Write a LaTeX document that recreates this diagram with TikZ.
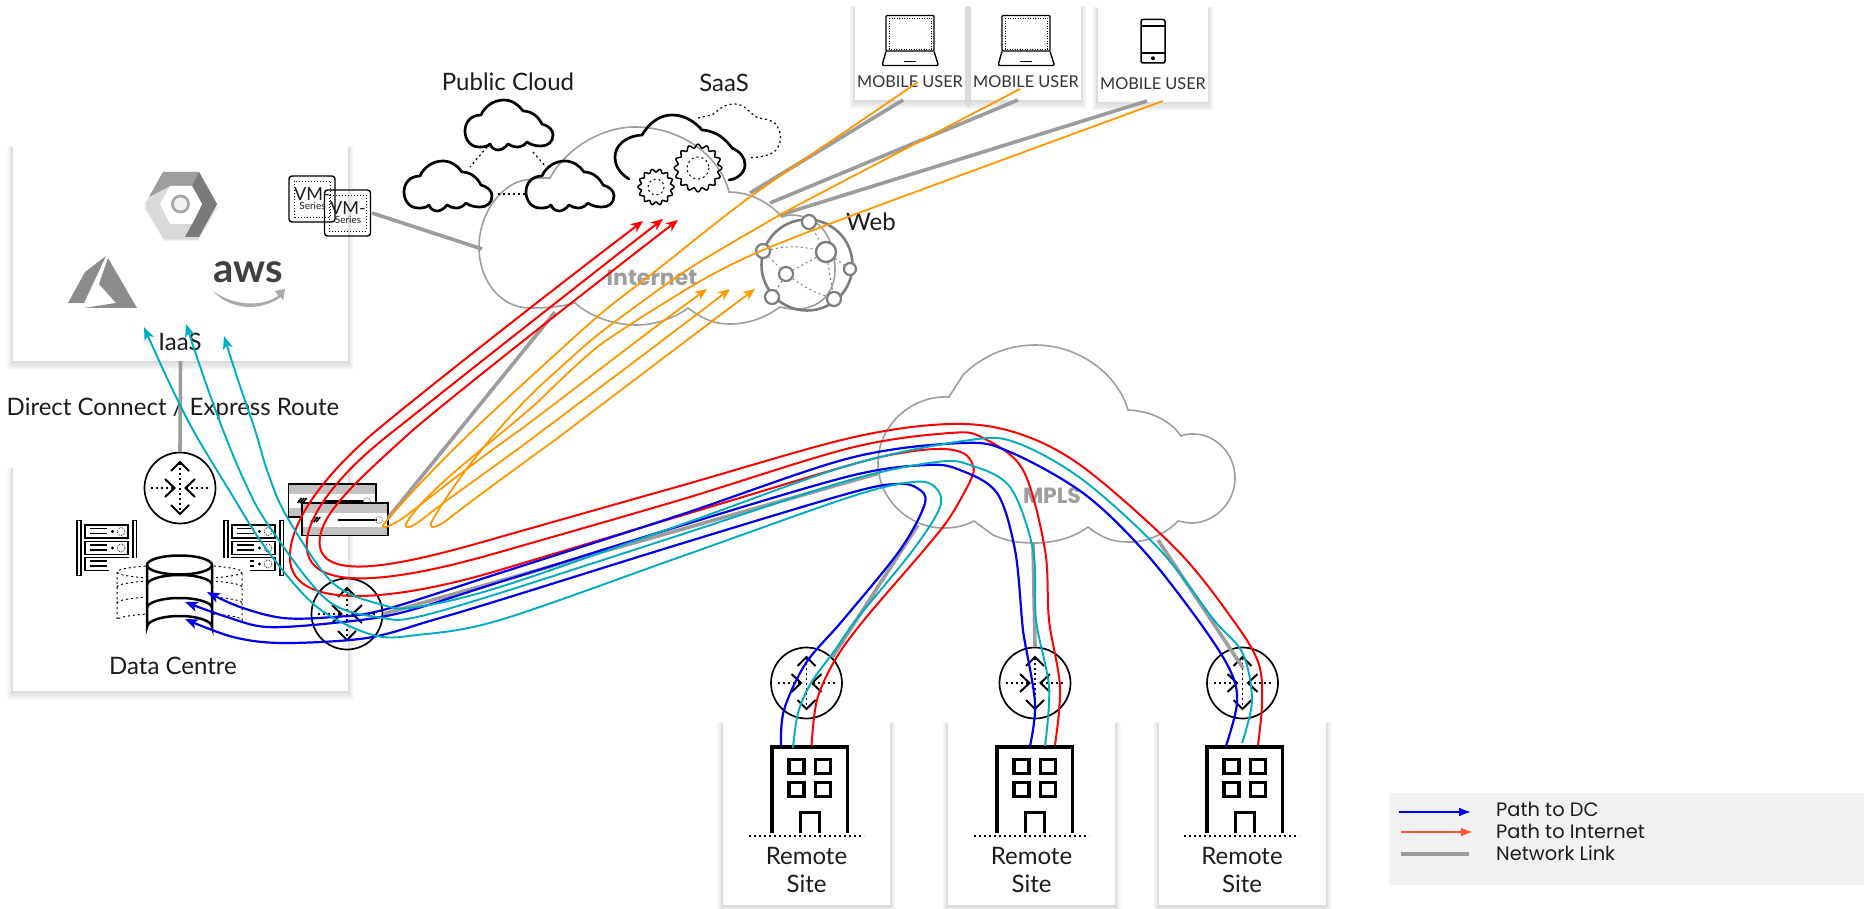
\documentclass[tikz,border=0pt]{standalone}
\usepackage{fontspec}
\setmainfont{Lato}
\newfontfamily\pop{Poppins}
\usetikzlibrary{arrows.meta}
\definecolor{linkgray}{HTML}{9C9C9C}
\definecolor{cloudgray}{HTML}{9E9E9E}
\definecolor{webgray}{HTML}{7D7D7D}
\definecolor{pathred}{HTML}{FF0000}
\definecolor{pathblue}{HTML}{0000F0}
\definecolor{pathcyan}{HTML}{00ACC1}
\definecolor{pathorange}{HTML}{FF9800}
\definecolor{legendbg}{HTML}{F2F2F2}
\definecolor{legendred}{HTML}{FF5733}
\definecolor{inktext}{HTML}{1C1C1C}
\definecolor{hexbase}{HTML}{D9D9D9}
\definecolor{hextop}{HTML}{9E9E9E}
\definecolor{hexright}{HTML}{7A7A7A}
\definecolor{hexring}{HTML}{A8A8A8}
\definecolor{hexhole}{HTML}{F2F2F2}
\definecolor{azuregray}{HTML}{8C8C8C}
\definecolor{awssmile}{HTML}{ABABAB}
\tikzset{
  link/.style={draw=linkgray,line width=3.6pt},
  graycloud/.style={draw=cloudgray,line width=1.6pt},
  blackcloud/.style={draw=black,line width=2.7pt,line join=round},
  dots/.style={dash pattern=on 2pt off 3pt,line width=1.2pt},
  routerc/.style={circle,draw=black,line width=1.7pt,minimum size=71pt,inner sep=0pt},
  chevron/.style={draw=black,line width=2pt},
  redpath/.style={draw=pathred,line width=2pt,-{Stealth[length=12pt,width=10pt,inset=3.5pt]}},
  bluepath/.style={draw=pathblue,line width=2.2pt,-{Stealth[length=13pt,width=10pt,inset=3.5pt]}},
  cyanpath/.style={draw=pathcyan,line width=1.9pt,-{Stealth[length=13pt,width=10pt,inset=3.5pt]}},
  orangepath/.style={draw=pathorange,line width=1.8pt,-{Stealth[length=12pt,width=10pt,inset=3.5pt]}},
  lab/.style={text=inktext,font=\fontsize{24}{28}\selectfont,inner sep=0pt,align=center},
  remote/.style={text=inktext,font=\fontsize{24}{28}\selectfont,inner sep=0pt,align=center},
  mobile/.style={text=inktext!90,font=\fontsize{16.3}{19}\selectfont,inner sep=0pt},
  legendtxt/.style={text=inktext,font=\pop\fontsize{19.4}{23}\selectfont,inner sep=0pt,anchor=west},
  cloudname/.style={text=cloudgray,font=\pop\bfseries\fontsize{22}{26}\selectfont,inner sep=0pt},
  vmtxt/.style={text=inktext,inner sep=0pt},
  cardbox/.style={fill=white,inner sep=0pt},
}
% card with a soft shadow: name, x1,y1,x2,y2
\newcommand\Card[5]{%
  \foreach \s in {1,...,7} {\fill[black,opacity=.021] ({#2-\s*.8},{#3+2-\s*.35}) rectangle ({#4+\s*.8},{#5+1+\s*1.2});}
  \node[cardbox,minimum width={#4-#2},minimum height={#5-#3}] (#1) at ({(#2+#4)/2},{(#3+#5)/2}) {};
}
\newcommand\Router[3]{%
  \node[routerc] (#1) at (#2,#3) {};
  \begin{scope}[shift={(#2,#3)}]
    \draw[dots] (-29,0) -- (-6,0);
    \draw[dots] (6,0) -- (29,0);
    \draw[dots] (0,-25) -- (0,25);
    \draw[chevron] (-9,-17) -- (0,-26) -- (9,-17);
    \draw[chevron] (-9,17) -- (0,26) -- (9,17);
    \draw[chevron] (-15,-9) -- (-5.5,0) -- (-15,9);
    \draw[chevron] (15,-9) -- (5.5,0) -- (15,9);
  \end{scope}
}
% cloud outline in a local 88x50 box
\newcommand\BlackCloud[2]{%
  \draw[blackcloud,shift={(#1,#2)}] (14,47) .. controls (5,47) and (0,39) .. (0,31)
   .. controls (0,22) and (6,15) .. (16,15)
   .. controls (20,6) and (29,0) .. (39,0)
   .. controls (47,0) and (54,5) .. (58,11)
   .. controls (66,11) and (73,16) .. (77,24)
   .. controls (84,26) and (88,30) .. (88,35)
   .. controls (88,42) and (83,46) .. (76,46)
   .. controls (71,46) and (66,45) .. (62,42)
   .. controls (59,46) and (55,47) .. (52,47)
   .. controls (49,47) and (46,46) .. (43,44)
   .. controls (40,48) and (36,50) .. (33,50)
   .. controls (29,50) and (26,47) .. (25,44)
   .. controls (22,47) and (18,47) .. (14,47) -- cycle;
}
\newcommand\Building[1]{%
  \begin{scope}[xshift=#1]
    \draw[line width=3.4pt] (772,833) -- (772,747) -- (847.5,747) -- (847.5,833);
    \foreach \wx/\wy in {789/759.5,815.5/759.5,789/782.5,815.5/782.5} {\draw[line width=3.2pt] (\wx,\wy) rectangle ++(15,14);}
    \draw[line width=3pt] (800.5,833) -- (800.5,812.5) -- (819.5,812.5) -- (819.5,833);
    \draw[dots,line width=1.6pt] (749,836) -- (864,836);
  \end{scope}
}
\newcommand\Rack[1]{%
  \begin{scope}[xshift=#1]
    \draw[fill=white,line width=1.4pt] (77,520.5) rectangle (81,575.5);
    \draw[fill=white,line width=1.4pt] (133,520.5) rectangle (136.5,575.5);
    \foreach \uy in {525,541.5,557.5} {
      \draw[fill=white,line width=1.5pt] (85,\uy) rectangle (128,\uy+13);
      \draw[line width=1.5pt] (90,\uy+3.7) -- (107,\uy+3.7);
      \draw[line width=1.5pt] (90,\uy+8.5) -- (107,\uy+8.5);
      \fill (112.5,\uy+6.5) circle (1.7);
      \draw[dash pattern=on .8pt off 1pt,line width=.7pt] (121,\uy+6.5) circle (4);
    }
  \end{scope}
}
\newcommand\Device[4]{% x1 y1 x2 y2
  \fill[white] (#1,#2) rectangle (#3,#4);
  \fill[gray!48] (#1,#2) rectangle (#3,{#2+10});
  \fill[gray!48] (#1,{#4-9}) rectangle (#3,#4);
  \draw[black,line width=1.3pt] (#1,#2) rectangle (#3,#4);
  \foreach \k in {0,2.6,5.2} {\draw[black,line width=1.7pt] ({#1+9+\k},{#2+19}) -- ({#1+13+\k},{#2+14});}
  \draw[black,line width=1.5pt] ({#1+36},{#2+17}) -- ({#1+75},{#2+17});
  \draw[black!40,line width=.6pt] ({#3-9},{#2+17}) circle (3.5);
}
\newcommand\Laptop[1]{%
  \begin{scope}[xshift=#1]
    \draw[line width=1.4pt,rounded corners=1pt] (886,51) -- (886,15.5) -- (934,15.5) -- (934,51) -- cycle;
    \draw[dash pattern=on 1pt off 1.5pt,line width=.8pt] (889,18.5) rectangle (931.5,49);
    \draw[line width=1.4pt,rounded corners=2pt] (886,51.5) -- (882,65.5) -- (938.5,65.5) -- (934,51.5);
    \draw[line width=1.6pt] (904,61.5) -- (916,61.5);
  \end{scope}
}
\begin{document}
\begin{tikzpicture}[x=1pt,y=-1pt]
\useasboundingbox (0,0) rectangle (1864,909);
\fill[white] (0,0) rectangle (1864,909);

% ---- named ends of links
\coordinate (inetVM) at (482,249);
\coordinate (inetFW) at (555,312);
\coordinate (inetU1) at (750,193);
\coordinate (inetU2) at (770,203);
\coordinate (inetU3) at (780,215);
\coordinate (mplsDC) at (880,473);
\coordinate (mplsR1) at (918,525);
\coordinate (mplsR2) at (1033,543);
\coordinate (mplsR3) at (1158,540);
\coordinate (fwEnd) at (388,518);
\coordinate (u1End) at (903,100);
\coordinate (u2End) at (1018,100);
\coordinate (u3End) at (1147,101);
\coordinate (vmEnd) at (372,213);
\coordinate (r3In) at (1243,668);

% ---- gray clouds
\draw[graycloud] (479,247) .. controls (479,210) and (505,182) .. (526,180)
  .. controls (535,178) and (543,178) .. (550,178)
  .. controls (565,150) and (600,127) .. (635,127)
  .. controls (680,127) and (720,155) .. (729,192)
  .. controls (750,192) and (770,203) .. (782,217)
  .. controls (790,214) and (795,215) .. (800,216)
  .. controls (825,220) and (835,245) .. (835,270)
  .. controls (835,300) and (810,315) .. (780,307)
  .. controls (765,318) and (748,324) .. (730,324)
  .. controls (712,324) and (700,317) .. (688,308)
  .. controls (675,318) and (655,325) .. (637,325)
  .. controls (612,325) and (590,316) .. (575,303)
  .. controls (560,307) and (545,308) .. (530,308)
  .. controls (500,308) and (479,280) .. (479,247) -- cycle;
\draw[graycloud] (878,463) .. controls (878,425) and (912,395) .. (949,397)
  .. controls (952,392) and (960,380) .. (963,375)
  .. controls (980,358) and (1005,345) .. (1035,345)
  .. controls (1080,345) and (1118,375) .. (1128,410)
  .. controls (1150,411) and (1170,420) .. (1181,436)
  .. controls (1186,434) and (1190,434) .. (1193,434)
  .. controls (1217,434) and (1235,455) .. (1235,478)
  .. controls (1235,505) and (1212,523) .. (1192,523)
  .. controls (1187,523) and (1183,522) .. (1178,521)
  .. controls (1165,535) and (1145,542) .. (1130,542)
  .. controls (1115,542) and (1105,540) .. (1088,527)
  .. controls (1075,537) and (1055,543) .. (1035,543)
  .. controls (1015,543) and (1005,540) .. (993,535)
  -- (974,521) .. controls (965,526) and (955,528) .. (943,528)
  .. controls (910,528) and (878,500) .. (878,463) -- cycle;
\node[cloudname] (internetLabel) at (652,278) {Internet};
\node[cloudname] (mplsLabel) at (1052,496) {MPLS};

% ---- cards
\Card{iaas}{13}{146}{348}{361}
\Card{dc}{13}{468}{348}{691}
\Card{user1}{855}{6}{965}{100}
\Card{user2}{971}{6}{1081}{100}
\Card{user3}{1098}{7}{1208}{102}
\Card{site1}{723}{722}{890}{905}
\Card{site2}{948}{722}{1115}{905}
\Card{site3}{1159}{722}{1326}{905}

% ---- public cloud
\BlackCloud{465}{100}
\BlackCloud{404}{161}
\BlackCloud{526}{161}
\coordinate (pc1a) at (487,147);
\coordinate (pc1b) at (533,152);
\coordinate (pc2a) at (470,167);
\coordinate (pc2b) at (498,194);
\coordinate (pc3a) at (546,167);
\coordinate (pc3b) at (525,194);
\draw[dots] (pc1a) -- (pc2a);
\draw[dots] (pc1b) -- (pc3a);
\draw[dots] (pc2b) -- (pc3b);
\node[lab] (publicCloud) at (508,82) {Public Cloud};

% ---- SaaS
\draw[line width=2.7pt,line cap=round] (629,179) .. controls (619,173) and (615,165) .. (615,157)
  .. controls (615,146) and (625,136) .. (642,135)
  .. controls (650,122) and (660,115) .. (672,115)
  .. controls (685,115) and (695,122) .. (702,130)
  .. controls (718,131) and (727,141) .. (732,148)
  .. controls (741,152) and (745,158) .. (745,165)
  .. controls (745,172) and (738,179) .. (729,180);
\draw[dots] (698,118) .. controls (705,116) and (712,116) .. (715,113)
  .. controls (722,106) and (728,104) .. (735,104)
  .. controls (745,104) and (750,114) .. (758,118)
  .. controls (768,119) and (777,122) .. (778,128)
  .. controls (782,135) and (781,142) .. (778,147)
  .. controls (775,155) and (762,157) .. (748,158);
\begin{scope}[shift={(698,168)}]
  \draw[line width=1.5pt] plot[domain=0:360,samples=181] (\x:{22+1.8*cos(16*\x)}) -- cycle;
  \draw[dots,line width=1pt] (0,0) circle (11);
\end{scope}
\begin{scope}[shift={(656,187)}]
  \draw[line width=1.5pt] plot[domain=0:360,samples=181] (\x:{16.5+1.5*cos(14*\x)}) -- cycle;
  \draw[dots,line width=1pt] (0,0) circle (8);
\end{scope}
\node[lab] (saas) at (724,83) {SaaS};

% ---- web globe
\node[circle,draw=webgray,line width=2.6pt,minimum size=91pt,inner sep=0pt] (globe) at (807,265) {};
\node[circle,draw=webgray,fill=white,line width=2.2pt,minimum size=14pt,inner sep=0pt] (g1) at (809,222) {};
\node[circle,draw=webgray,fill=white,line width=2.2pt,minimum size=14pt,inner sep=0pt] (g2) at (763,251) {};
\node[circle,draw=webgray,fill=white,line width=2.4pt,minimum size=20pt,inner sep=0pt] (g3) at (826,252) {};
\node[circle,draw=webgray,fill=white,line width=2.2pt,minimum size=12pt,inner sep=0pt] (g4) at (850,269) {};
\node[circle,draw=webgray,fill=white,line width=2.2pt,minimum size=14pt,inner sep=0pt] (g5) at (786,274) {};
\node[circle,draw=webgray,fill=white,line width=2.2pt,minimum size=14pt,inner sep=0pt] (g6) at (772,297) {};
\node[circle,draw=webgray,fill=white,line width=2.2pt,minimum size=14pt,inner sep=0pt] (g7) at (834,299) {};
\draw[dots,draw=webgray,line width=1pt] (g2) to[bend left=12] (g3);
\draw[dots,draw=webgray,line width=1pt] (g3) -- (g5);
\draw[dots,draw=webgray,line width=1pt] (g2) -- (g5);
\draw[dots,draw=webgray,line width=1pt] (g5) -- (g6);
\draw[dots,draw=webgray,line width=1pt] (g5) to[bend right=8] (g7);
\draw[dots,draw=webgray,line width=1pt] (g3) -- (g7);
\draw[dots,draw=webgray,line width=1pt] (g1) -- (g3);
\draw[dots,draw=webgray,line width=1pt] (g3) -- (g4);
\node[lab] (web) at (871,222) {Web};

% ---- IaaS contents
\foreach \s in {1,2,3} {\fill[black,opacity=.05] (147-\s,208) -- (164,177+\s) -- (198,177+\s) -- (215+\s,208) -- (198,238+\s) -- (164,238+\s) -- cycle;}
\fill[hexbase] (145,204) -- (163,172) -- (199,172) -- (217,204) -- (199,237) -- (163,237) -- cycle;
\fill[hextop] (149,197) -- (163,172) -- (199,172) -- (192,186) -- (170,186) -- cycle;
\fill[hexright] (192,186) -- (199,172) -- (217,204) -- (199,237) -- (185,237) -- (192,224) -- (202,204) -- cycle;
\fill[white] (160,204) -- (170,186) -- (192,186) -- (202,204) -- (192,224) -- (170,224) -- cycle;
\fill[hexring] (180.5,204) circle (9.5);
\fill[hexhole] (180.5,204) circle (6.5);
\fill[azuregray] (106,256) -- (85,272) -- (68,303) -- (84,303) -- cycle;
\fill[azuregray] (108,258) -- (137,308) -- (84,308) -- (116,303) -- (99,284) -- cycle;
\node[text=black!75,font=\bfseries\fontsize{40}{44}\selectfont,inner sep=0pt,anchor=base] (aws) at (248,283) {aws};
\fill[awssmile] (213,291) .. controls (232,305) and (260,308) .. (278,296) -- (275,291) -- (285,289) -- (283,301) -- (281,297) .. controls (260,312) and (230,310) .. (213,291) -- cycle;
\node[lab] (iaasLabel) at (180,342) {IaaS};
\node[lab] (directLabel) at (173,409) {Direct Connect / Express Route};

% ---- Data centre contents
\Rack{0pt}
\Rack{147pt}
\fill[white] (109,558) rectangle (250,630);
\draw[dots,line width=1pt] (117,572) -- (117,620) arc[start angle=180,end angle=360,x radius=62.5,y radius=7] -- (242,572);
\draw[dots,line width=1pt] (179.5,572) ellipse [x radius=62.5,y radius=7];
\draw[dots,line width=1pt] (117,587) arc[start angle=180,end angle=360,x radius=62.5,y radius=7];
\draw[dots,line width=1pt] (117,603) arc[start angle=180,end angle=360,x radius=62.5,y radius=7];
\fill[white] (147,565) rectangle (212,627);
\fill[white] (147,627) arc[start angle=180,end angle=360,x radius=32.5,y radius=11] -- cycle;
\draw[line width=2.5pt,fill=white] (179.5,565) ellipse [x radius=32.5,y radius=9.5];
\draw[line width=2.5pt] (147,565) -- (147,627) arc[start angle=180,end angle=360,x radius=32.5,y radius=11] -- (212,565);
\draw[line width=2.5pt] (147,585) arc[start angle=180,end angle=360,x radius=32.5,y radius=10];
\draw[line width=2.5pt] (147,608) arc[start angle=180,end angle=360,x radius=32.5,y radius=10];
\node[lab] (dcLabel) at (173,666) {Data Centre};

% ---- VM series
\node[draw=black,line width=1.4pt,rounded corners=3pt,minimum size=46pt,inner sep=0pt] (vm1) at (312,199) {};
\draw[dots,line width=.8pt,dash pattern=on 1pt off 2pt] (294.5,181) rectangle (330,217);
\node[vmtxt,font=\fontsize{18}{20}\selectfont] (vm1t) at (312,194) {VM-};
\node[vmtxt,font=\fontsize{10}{12}\selectfont] (vm1s) at (312.5,206) {Series};
\node[draw=black,line width=1.4pt,rounded corners=3pt,minimum size=46pt,inner sep=0pt] (vm2) at (347.5,213) {};
\draw[dots,line width=.8pt,dash pattern=on 1pt off 2pt] (329,195) rectangle (366,231);
\node[vmtxt,font=\fontsize{18}{20}\selectfont] (vm2t) at (348,208) {VM-};
\node[vmtxt,font=\fontsize{10}{12}\selectfont] (vm2s) at (348,220) {Series};

% ---- firewall
\Device{288.5}{484}{376}{517}
\Device{302}{503}{388}{535.5}

% ---- users
\Laptop{0pt}
\Laptop{116pt}
\draw[line width=1.5pt,rounded corners=2pt] (1141,19.5) rectangle (1165,63);
\draw[line width=1.3pt] (1141,26) -- (1165,26);
\draw[line width=1.3pt] (1141,53) -- (1165,53);
\fill (1153,58.3) circle (2);
\node[mobile] (mu1) at (910,82) {MOBILE USER};
\node[mobile] (mu2) at (1026,82) {MOBILE USER};
\node[mobile] (mu3) at (1153,84) {MOBILE USER};

% ---- remote sites
\Building{0pt}
\Building{225pt}
\Building{435pt}
\node[remote] (rs1a) at (806.5,856) {Remote};
\node[remote] (rs1b) at (806.5,884) {Site};
\node[remote] (rs2a) at (1031.5,856) {Remote};
\node[remote] (rs2b) at (1031.5,884) {Site};
\node[remote] (rs3a) at (1242,856) {Remote};
\node[remote] (rs3b) at (1242,884) {Site};

% ---- routers
\Router{rTop}{180}{488}
\Router{rDC}{347}{614}
\Router{r1}{806.5}{683}
\Router{r2}{1035}{683}
\Router{r3}{1242.5}{683}

% ---- network links
\draw[link] (iaas.south) -- (rTop.north);
\draw[link] (vmEnd) -- (inetVM);
\draw[link] (fwEnd) -- (inetFW);
\draw[link] (u1End) -- (inetU1);
\draw[link] (u2End) -- (inetU2);
\draw[link] (u3End) -- (inetU3);
\draw[link] (rDC.east) -- (mplsDC);
\draw[link] (r1.north east) -- (mplsR1);
\draw[link] (r2.north) -- (mplsR2);
\draw[link] (r3In) -- (mplsR3);

% ---- path end points
\coordinate (sR1) at (811.5,746);
\coordinate (sR2) at (1055,745);
\coordinate (sR3) at (1258,745);
\coordinate (sB1) at (781,746);
\coordinate (sB2) at (1030,746);
\coordinate (sB3) at (1226,746);
\coordinate (sC1) at (793,748);
\coordinate (sC2) at (1045,746);
\coordinate (sC3) at (1242,743);
\coordinate (tR1) at (643,221);
\coordinate (tR2) at (663,219);
\coordinate (tR3) at (678,220);
\coordinate (tB1) at (185,619);
\coordinate (tB2) at (185,602);
\coordinate (tB3) at (207,592);
\coordinate (tC1) at (144,327);
\coordinate (tC2) at (186,324);
\coordinate (tC3) at (224,336);
\coordinate (oU1) at (918,82);
\coordinate (oU2) at (1020,89);
\coordinate (oU3) at (1163,101);
\coordinate (tO1) at (707,289);
\coordinate (tO2) at (730,289);
\coordinate (tO3) at (755,289);

% ---- red paths
\draw[redpath] plot[smooth,tension=.55] coordinates {(sR1) (817,700) (835,660) (864,620) (924,550) (950,517) (972,477) (972,463) (963,453) (943,449) (907,452) (850,465) (680,516) (500,570)}
  .. controls (400,600) and (285,615) .. (290,553)
  .. controls (293,515) and (330,470) .. (377,430)
  .. controls (430,386) and (560,284) .. (tR1);
\draw[redpath] plot[smooth,tension=.55] coordinates {(sR2) (1060,687) (1049,620) (1045,550) (1023,470) (983,438) (950,433) (850,448) (680,500) (500,552)}
  .. controls (410,578) and (300,600) .. (307,540)
  .. controls (310,510) and (345,468) .. (395,430)
  .. controls (445,390) and (578,285) .. (tR2);
\draw[redpath] plot[smooth,tension=.55] coordinates {(sR3) (1262,703) (1258.5,663) (1233,620) (1177,550) (1083,467) (1017,433) (950,424) (850,438) (680,486) (500,537)}
  .. controls (420,560) and (312,590) .. (320,537)
  .. controls (324,510) and (360,478) .. (413,430)
  .. controls (460,390) and (595,284) .. (tR3);
% ---- blue paths
\draw[bluepath] plot[smooth,tension=.55] coordinates {(sB1) (784,710) (806,663) (843,620) (900,550) (925,503) (917,488) (897,484) (850,493) (680,544) (500,600) (433,620) (367,638) (283,643) (233,637) (tB1)};
\draw[bluepath] plot[smooth,tension=.55] coordinates {(sB2) (1035,703) (1024,637) (1022,620) (1015,550) (997,493) (960,470) (927,465) (850,476) (680,526) (500,582) (400,613) (333,623) (267,627) (227,617) (tB2)};
\draw[bluepath] plot[smooth,tension=.55] coordinates {(sB3) (1237,703) (1230,670) (1198,620) (1143,550) (1083,493) (1010,452) (963,443) (850,458) (680,515) (500,573) (383,610) (333,617) (283,618) (240,607) (tB3)};
% ---- cyan paths
\draw[cyanpath] plot[smooth,tension=.55] coordinates {(sC1) (798,713) (811,683) (835,650) (856,620) (913,550) (940,507) (935,487) (913,482) (850,497) (680,557) (500,620) (417,635) (373,635) (317,607) (267,550) (229,490) (193,430) (167,378) (tC1)};
\draw[cyanpath] plot[smooth,tension=.55] coordinates {(sC2) (1049,687) (1036,620) (1033,550) (1010,487) (970,465) (937,462) (850,480) (680,535) (500,593) (417,617) (383,618) (327,600) (267,523) (243,478) (223,430) (203,375) (tC2)};
\draw[cyanpath] plot[smooth,tension=.55] coordinates {(sC3) (1252,700) (1242.5,653) (1214,620) (1160,550) (1083,480) (1017,443) (970,440) (850,465) (680,525) (500,587) (417,607) (383,605) (333,583) (287,517) (268,473) (255,430) (238,380) (tC3)};
% ---- orange paths
\draw[orangepath] plot[smooth,tension=.45] coordinates {(oU1) (880,108) (750,197) (657,270) (597,317) (500,405)}
  .. controls (440,460) and (395,510) .. (384,524)
  .. controls (380,530) and (390,527) .. (403,518)
  .. controls (430,498) and (470,465) .. (520,430)
  .. controls (580,385) and (650,330) .. (tO1);
\draw[orangepath] plot[smooth,tension=.45] coordinates {(oU2) (840,183) (780,215) (687,270) (600,333) (560,368)}
  .. controls (505,415) and (455,480) .. (431,523)
  .. controls (429,530) and (438,527) .. (447,520)
  .. controls (470,502) and (500,480) .. (555,440)
  .. controls (620,391) and (700,330) .. (tO3);
\draw[orangepath] plot[smooth,tension=.45] coordinates {(oU3) (880,205) (763,250) (697,283) (600,345) (540,400)}
  .. controls (490,445) and (425,490) .. (406,524)
  .. controls (404,530) and (412,527) .. (420,521)
  .. controls (450,497) and (490,470) .. (530,440)
  .. controls (590,395) and (670,335) .. (tO2);

% ---- legend
\fill[legendbg] (1389,793) rectangle (1864,885);
\coordinate (lg1a) at (1399,812);
\coordinate (lg1b) at (1471,812);
\coordinate (lg2a) at (1401,832);
\coordinate (lg2b) at (1473,832);
\coordinate (lg3a) at (1401,854);
\coordinate (lg3b) at (1469,854);
\draw[draw=pathblue,line width=2pt,-{Latex[length=12pt,width=9pt]}] (lg1a) -- (lg1b);
\draw[draw=legendred,line width=2pt,-{Latex[length=12pt,width=9pt]}] (lg2a) -- (lg2b);
\draw[link] (lg3a) -- (lg3b);
\node[legendtxt] (lt1) at (1496,809) {Path to DC};
\node[legendtxt] (lt2) at (1496,831) {Path to Internet};
\node[legendtxt] (lt3) at (1496,853) {Network Link};
\end{tikzpicture}
\end{document}
